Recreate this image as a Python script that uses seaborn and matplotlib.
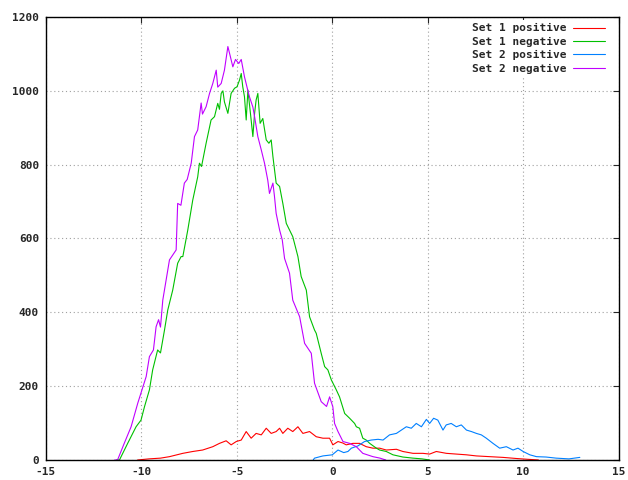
import pandas as pd
import matplotlib
matplotlib.use("Agg")
import matplotlib.pyplot as plt
import seaborn as sns

# values
set1_pos_x = [-10.2, -9.6, -9.0, -8.53, -7.83, -7.31, -6.79, -6.26, -5.91, -5.56, -5.3, -5.03,
              -4.77, -4.51, -4.25, -3.99, -3.72, -3.46, -3.2, -2.94, -2.76, -2.59, -2.33, -2.07,
              -1.8, -1.54, -1.19, -0.84, -0.49, -0.14, 0.03, 0.3, 0.55, 0.73, 1.08, 1.43, 1.78,
              2.13, 2.48, 2.83, 3.36, 3.7, 4.23, 4.75, 5.1, 5.45, 5.98, 6.5, 7.03, 7.55, 8.25,
              8.95, 9.65, 10.2, 10.8]
set1_pos_y = [0, 3, 5, 9, 18, 23, 27, 36, 45, 52, 41, 50,
              54, 77, 59, 72, 68, 86, 72, 77, 86, 72, 86, 77,
              90, 72, 77, 63, 59, 59, 41, 50, 46, 41, 45, 45, 36,
              32, 32, 27, 29, 23, 18, 18, 16, 23, 18, 16, 14, 11, 9,
              7, 4, 2, 0]

set1_neg_x = [-11.3, -11.15, -10.72, -10.28, -10.02, -9.84, -9.58, -9.41, -9.15, -9.0, -8.79,
              -8.62, -8.36, -8.1, -7.92, -7.83, -7.57, -7.31, -7.05, -6.96, -6.85, -6.61, -6.35,
              -6.17, -6.0, -5.91, -5.82, -5.73, -5.65, -5.47, -5.3, -5.12, -4.99, -4.86, -4.77,
              -4.69, -4.6, -4.51, -4.42, -4.25, -4.16, -4.07, -3.99, -3.9, -3.78, -3.64, -3.46,
              -3.32, -3.2, -3.11, -2.94, -2.76, -2.59, -2.41, -2.24, -2.07, -1.89, -1.8, -1.63,
              -1.36, -1.19, -0.93, -0.84, -0.58, -0.4, -0.23, -0.05, 0.21, 0.38, 0.65, 0.91,
              1.17, 1.26, 1.43, 1.6, 1.78, 1.96, 2.31, 2.48, 2.83, 3.18, 3.7, 4.23, 4.7, 5.1]
set1_neg_y = [0, 0, 45, 90, 108, 144, 190, 244, 298, 290, 352,
              406, 460, 533, 551, 551, 623, 704, 767, 804, 795, 858, 921,
              930, 966, 950, 993, 1000, 970, 939, 993, 1007, 1011, 1029, 1047,
              1011, 984, 921, 1002, 921, 876, 939, 975, 993, 912, 925, 867,
              858, 867, 822, 750, 741, 695, 641, 623, 605, 569, 551, 497,
              460, 388, 352, 343, 289, 253, 244, 217, 190, 171, 126, 113,
              99, 90, 86, 59, 54, 45, 32, 27, 23, 14, 8, 5, 3, 0]

set2_pos_x = [-1.0, -0.93, -0.49, 0.0, 0.3, 0.6, 0.82, 1.0, 1.34, 1.69, 2.04, 2.4, 2.66, 3.0,
              3.36, 3.62, 3.88, 4.14, 4.4, 4.67, 4.93, 5.1, 5.31, 5.53, 5.8, 5.97, 6.23, 6.5,
              6.76, 7.03, 7.29, 7.55, 7.81, 8.07, 8.42, 8.77, 9.12, 9.47, 9.73, 10.0, 10.35,
              10.7, 11.2, 11.73, 12.4, 12.97]
set2_pos_y = [0, 5, 11, 14, 27, 20, 23, 32, 38, 50, 54, 56, 54, 68,
              72, 81, 90, 86, 99, 90, 110, 99, 113, 108, 81, 95, 99, 90,
              95, 81, 77, 72, 68, 59, 45, 32, 36, 27, 32, 23, 14,
              9, 8, 5, 3, 7]

set2_neg_x = [-11.4, -11.25, -10.9, -10.54, -10.19, -9.97, -9.75, -9.58, -9.37, -9.23, -9.1,
              -9.0, -8.88, -8.53, -8.18, -8.1, -7.93, -7.75, -7.6, -7.39, -7.22, -7.05, -6.87,
              -6.8, -6.61, -6.43, -6.26, -6.08, -6.0, -5.82, -5.65, -5.47, -5.35, -5.21, -5.07,
              -4.9, -4.77, -4.6, -4.42, -4.34, -4.16, -4.07, -3.9, -3.72, -3.55, -3.38, -3.29,
              -3.11, -3.03, -2.94, -2.76, -2.62, -2.5, -2.24, -2.07, -1.71, -1.45, -1.1, -0.93,
              -0.58, -0.3, -0.14, 0.03, 0.12, 0.3, 0.56, 0.91, 1.26, 1.6, 2.13, 2.5, 2.8]
set2_neg_y = [0, 0, 45, 90, 154, 190, 226, 280, 298, 361, 380,
              360, 433, 542, 569, 695, 690, 750, 760, 804, 876, 894, 967,
              937, 957, 993, 1020, 1056, 1010, 1020, 1056, 1120, 1095, 1065, 1085,
              1074, 1085, 1038, 1000, 984, 956, 930, 876, 840, 804, 758, 722,
              750, 715, 668, 623, 596, 546, 506, 433, 388, 316, 289, 208,
              158, 145, 171, 144, 99, 77, 50, 45, 36, 18, 9, 5, 0]

labels = ["Set 1 positive", "Set 1 negative", "Set 2 positive", "Set 2 negative"]
colors = ["#ff0000", "#00c000", "#0080ff", "#c000ff"]
x_ticks = [-15, -10, -5, 0, 5, 10, 15]
y_ticks = [0, 200, 400, 600, 800, 1000, 1200]

series = [(set1_pos_x, set1_pos_y), (set1_neg_x, set1_neg_y),
          (set2_pos_x, set2_pos_y), (set2_neg_x, set2_neg_y)]

sns.set_style("white")
plt.rcParams['font.family'] = ['DejaVu Sans Mono']
plt.rcParams['font.weight'] = 'bold'

fig = plt.figure(figsize=(6.28, 4.80), dpi=100)
ax = fig.add_axes([0.0732, 0.0417, 0.9118, 0.9229])

for (xs, ys), lab, col in zip(series, labels, colors):
    df = pd.DataFrame({'x': xs, 'y': ys})
    sns.lineplot(data=df, x='x', y='y', color=col, lw=0.8, label=lab,
                 estimator=None, sort=False, ax=ax)

ax.set_xlim(-15, 15)
ax.set_ylim(0, 1200)
ax.set_xticks(x_ticks)
ax.set_yticks(y_ticks)
ax.set_xticklabels([str(t) for t in x_ticks])
ax.set_xlabel("")
ax.set_ylabel("")
ax.grid(True, color='#a0a0a0', linestyle=(0, (1, 2.5)), lw=0.8)
ax.tick_params(direction='in', length=4, width=0.8, top=True, right=True,
               labelsize=8, pad=5)
for sp in ax.spines.values():
    sp.set_color('black')
    sp.set_linewidth(1.0)

ax.legend(loc='upper right', bbox_to_anchor=(0.982, 0.993), markerfirst=False,
          frameon=True, framealpha=1, edgecolor='none', facecolor='white',
          fancybox=False, fontsize=8, handlelength=2.9, handletextpad=0.6,
          labelspacing=0.3, borderaxespad=0.0, borderpad=0.3)

fig.savefig("out.png", dpi=100)
